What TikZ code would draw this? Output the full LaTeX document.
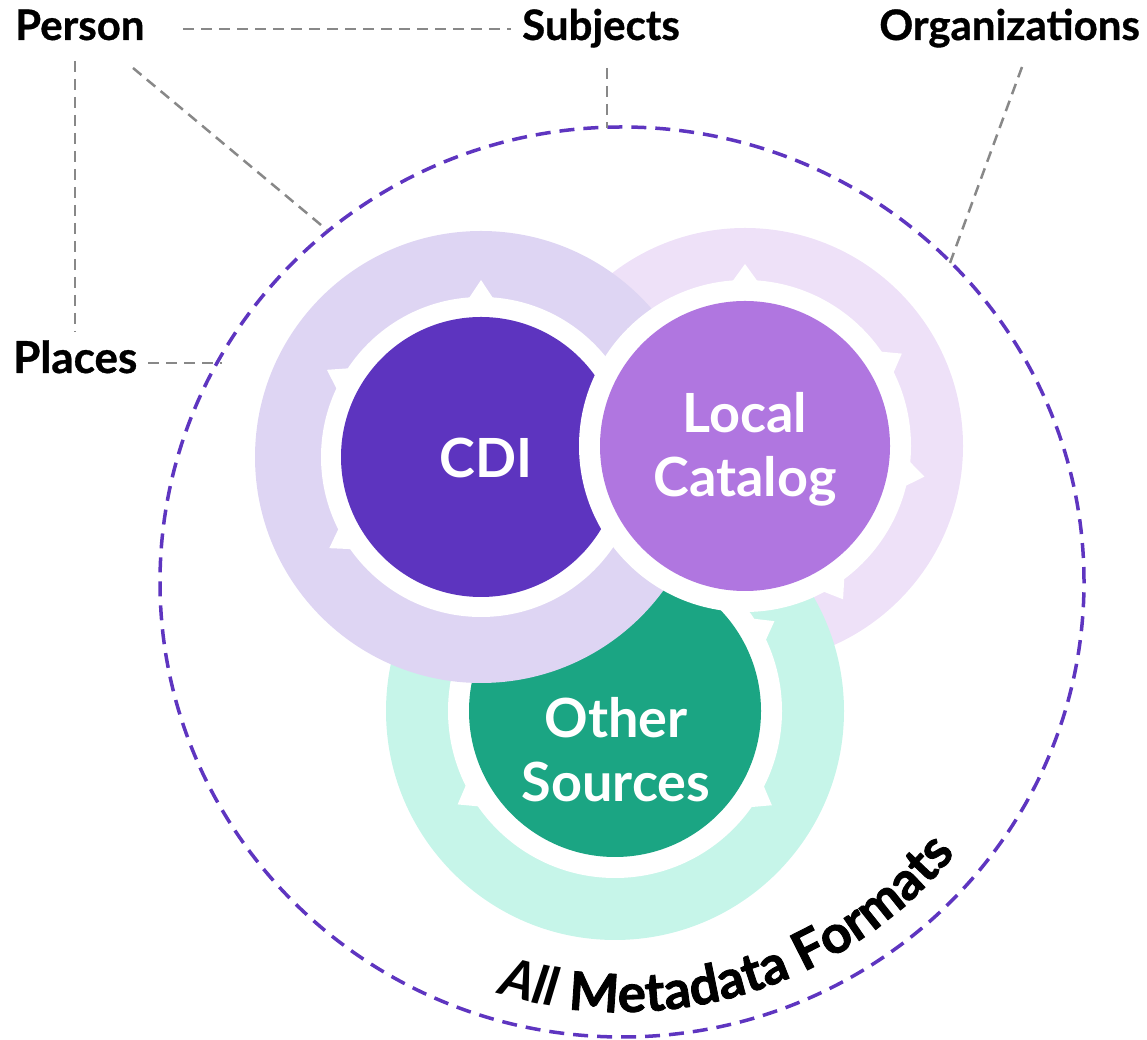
\documentclass[tikz,border=0pt]{standalone}
\usepackage{fontspec}
\setmainfont{Lato}
\newfontfamily\heavyfont{Lato}[BoldFeatures={FakeBold=1.6}]
\newfontfamily\semiheavyfont{Lato}[BoldFeatures={FakeBold=0.8}]
\usetikzlibrary{decorations.text}
\definecolor{cdidark}{HTML}{5D34BF}
\definecolor{cdilight}{HTML}{DED5F3}
\definecolor{locdark}{HTML}{B076E0}
\definecolor{loclight}{HTML}{EEE1F8}
\definecolor{othdark}{HTML}{1BA583}
\definecolor{othlight}{HTML}{C6F5E9}
\definecolor{ringline}{HTML}{5E35C0}
\definecolor{leader}{HTML}{888888}
\newcommand\spikeset[5]{%
  \foreach \a in {#5}{%
    \fill[white,shift={(#1,#2)}] (\a-4.7:#3) -- (\a:#4) -- (\a+4.7:#3) -- cycle;}}
\begin{document}
\begin{tikzpicture}[x=1pt,y=1pt,
  lbl/.style={font=\fontsize{42}{42}\selectfont\semiheavyfont\bfseries, text=black, inner sep=0pt},
  ctext/.style={font=\fontsize{54}{64}\selectfont\bfseries, text=white, align=center, inner sep=0pt},
  gdash/.style={draw=leader, line width=2.5pt, dash pattern=on 11pt off 7pt},
  bigdash/.style={draw=ringline, line width=3.5pt, dash pattern=on 15pt off 9pt}]
\useasboundingbox (0,0) rectangle (1147,1040);

% outer dashed boundary
\draw[bigdash] (622,458) ellipse[x radius=462, y radius=455];

% Local Catalog halo (bottom layer)
\fill[loclight] (745,594) circle[radius=218];
% Other sources
\fill[othlight] (615,329) circle[radius=229];
\fill[white] (615,329) circle[radius=167];
\spikeset{615}{329}{165}{183}{29.4,-31,210.7}
\fill[othdark] (615,329) circle[radius=146];
% CDI
\fill[cdilight] (481,583) circle[radius=226];
\fill[white] (481,583) circle[radius=160];
\spikeset{481}{583}{158}{177}{90,150.5,211}
\fill[cdidark] (481,583) circle[radius=140];
% Local catalog
\fill[white] (745,594) circle[radius=166];
\spikeset{745}{594}{164}{182}{90,30.5,-9.7,-57.4}
\fill[locdark] (745,594) circle[radius=145];

% circle texts
\node[ctext] (cdi) at (486,582.5) {CDI};
\node[ctext] (local) at (745,591) {Local\\Catalog};
\node[ctext] (other) at (616,290) {Other\\Sources};

% labels
\node[lbl, anchor=base west] (person) at (15,1000) {Person};
\node[lbl, anchor=base west] (subjects) at (522,1000) {Subjects};
\node[lbl, anchor=base east] (orgs) at (1140,1000) {Organizations};
\node[lbl, font=\fontsize{44}{44}\selectfont\semiheavyfont\bfseries, anchor=base west] (places) at (13,667) {Places};

% leader line end points
\coordinate (pA) at (183,1011);
\coordinate (sA) at (511,1011);
\coordinate (pB) at (75,979);
\coordinate (plA) at (75,708);
\coordinate (pC) at (133,972);
\coordinate (ringP) at (327,810);
\coordinate (sB) at (607,972);
\coordinate (ringS) at (607,912);
\coordinate (oA) at (1022,973);
\coordinate (ringO) at (950,777);
\coordinate (plB) at (148,677);
\coordinate (ringL) at (222,677);

\draw[gdash] (pA) -- (sA);
\draw[gdash] (pB) -- (plA);
\draw[gdash] (pC) -- (ringP);
\draw[gdash] (sB) -- (ringS);
\draw[gdash] (oA) -- (ringO);
\draw[gdash] (plB) -- (ringL);

% curved caption
\path[decorate, decoration={text along path, text align=center,
  text={|\fontsize{53}{53}\selectfont\heavyfont\bfseries\itshape|All|\fontsize{53}{53}\selectfont\heavyfont\bfseries\upshape| Metadata Formats}}]
  (622,458) ++(-108:430) arc[start angle=-108, end angle=-38, radius=430];
\end{tikzpicture}
\end{document}
